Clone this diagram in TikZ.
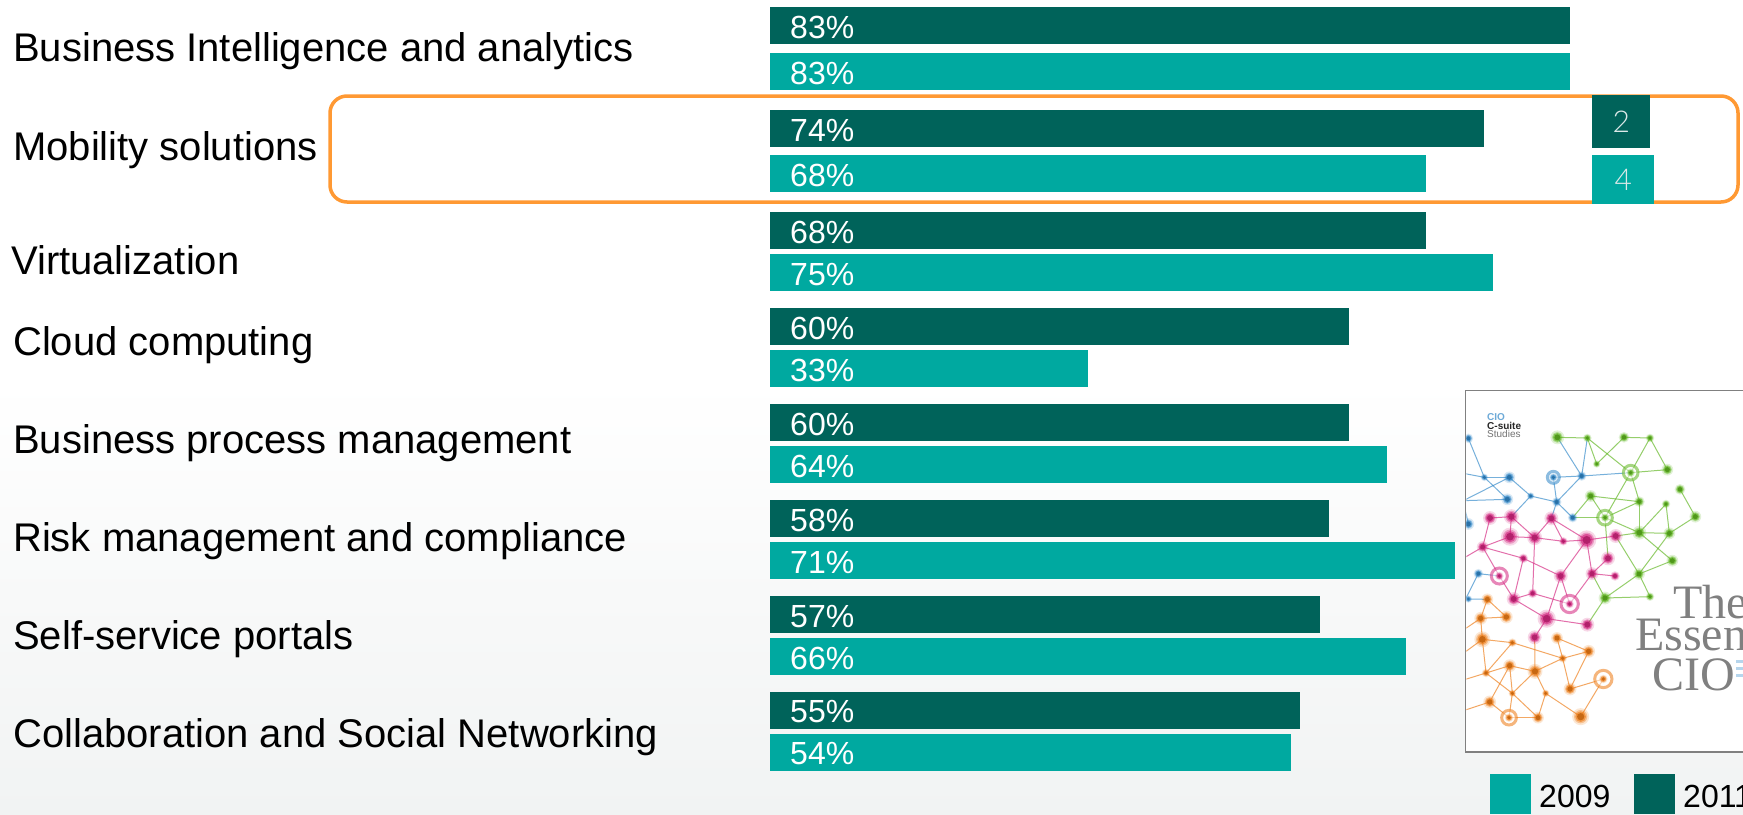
\documentclass[tikz,border=0pt]{standalone}
\usepackage{fontspec}
\usetikzlibrary{calc}
\setmainfont{Liberation Sans}
\newfontfamily\serifcover{Liberation Serif}
\newfontfamily\thinfont{Lato Light}
\definecolor{tealbar}{HTML}{00A9A0}
\definecolor{darkbar}{HTML}{00635A}
\definecolor{ringor}{HTML}{FF9933}
\definecolor{bgend}{HTML}{F1F3F3}
\definecolor{framegrey}{HTML}{808080}
\definecolor{nblue}{HTML}{2E86C8}
\definecolor{ngreen}{HTML}{5DB51C}
\definecolor{npink}{HTML}{D4237F}
\definecolor{norange}{HTML}{EE7A12}
\definecolor{badgetext}{HTML}{DDE9E9}
\tikzset{
  barbase/.style={rectangle,anchor=north west,inner sep=0pt,minimum height=37pt},
  darkb/.style={barbase,fill=darkbar},
  tealb/.style={barbase,fill=tealbar},
  pct/.style={anchor=base west,inner sep=0pt,text=white,font=\fontsize{32}{32}\selectfont},
  rowlabel/.style={anchor=base west,inner sep=0pt,text=black,font=\fontsize{40}{40}\selectfont},
  legendtext/.style={anchor=base west,inner sep=0pt,text=black,font=\fontsize{32}{32}\selectfont},
  covertitle/.style={anchor=base west,inner sep=0pt,text=black!50,font=\serifcover\fontsize{48}{48}\selectfont},
  badge/.style={rectangle,anchor=north west,inner sep=0pt,text=badgetext,font=\thinfont\fontsize{30}{30}\selectfont},
  netedge/.style={line width=1pt,opacity=0.65},
}
\def\bluelist{b1/145/205/9,b2/193/322/7,b3/268/322/11,b4/262/388/11,b5/145/462/11,b6/332/378/7,b7/400/322/8,b8/485/318/9,b9/410/396/9,b10/458/443/9,b11/175/611/9,b12/145/687/7,bx1/130/310/1,bx2/130/392/1,bx3/130/700/1}
\def\greenlist{g1/412/202/13,g2/502/204/8,g3/612/202/10,g4/690/204/8,g5/530/282/7,g6/632/308/8,g7/742/299/11,g8/512/378/11,g9/658/395/10,g10/780/358/10,g11/738/402/8,g12/826/440/11,g13/555/443/8,g14/658/488/13,g15/748/490/11,g16/757/572/11,g17/657/612/11,g18/555/684/12,g19/690/680/8}
\def\pinklist{p1/210/444/13,p2/274/440/14,p3/394/445/13,p4/270/500/17,p5/344/503/14,p6/430/514/8,p7/500/510/18,p8/587/498/13,p9/188/531/11,p10/310/565/9,p11/564/565/13,p12/238/618/8,p13/422/618/13,p14/516/611/12,p15/585/618/9,p16/281/687/13,p17/338/670/9,p18/449/702/8,p19/380/746/17,p20/502/764/13,p21/344/802/13,px1/130/565/1}
\def\orangelist{o1/202/688/11,o2/182/745/12,o3/259/741/12,o4/187/808/15,o5/277/818/8,o6/411/804/11,o7/506/844/12,o8/428/865/8,o9/269/887/12,o10/345/904/14,o11/198/909/8,o12/550/927/8,o13/450/957/12,o14/277/970/7,o15/377/970/7,o16/209/996/12,o17/267/1043/8,o18/354/1043/11,o19/482/1040/16,ox1/130/780/1,ox2/130/850/1,ox3/130/930/1,ox4/130/1022/1}
\def\ringlist{b7/18/nblue,g6/22/ngreen,g13/22/ngreen,p12/24/npink,p18/26/npink,o12/26/norange,o17/22/norange}
\newcommand\setnetcoords[1]{\foreach \n/\x/\y/\r in #1 { \coordinate (\n) at (\x,\y); }}
\newcommand\drawnetdots[2]{\foreach \n/\x/\y/\r in #1 {
    \fill[#2,opacity=0.18] (\n) circle[radius=\r*1.6];
    \fill[#2,opacity=0.35] (\n) circle[radius=\r*1.25];
    \fill[#2,opacity=0.6] (\n) circle[radius=\r];
    \fill[#2!82!black,opacity=0.9] (\n) circle[radius=\r*0.68];
}}
\begin{document}
\begin{tikzpicture}[x=1pt,y=-1pt]
\useasboundingbox (0,0) rectangle (1743,814);
\fill[white] (0,0) rectangle (1743,814);
\shade[top color=white,bottom color=bgend] (0,380) rectangle (1743,814);
% highlight
\node[rectangle,draw=ringor,line width=3.5pt,rounded corners=17pt,anchor=north west,inner sep=0pt,outer sep=0pt,minimum width=1408pt,minimum height=106pt] (hl) at (330,96) {};
% row labels
\node[rowlabel] (l1) at (13,61) {Business Intelligence and analytics};
\node[rowlabel] (l2) at (13,160) {Mobility solutions};
\node[rowlabel] (l3) at (11,274) {Virtualization};
\node[rowlabel] (l4) at (13,355) {Cloud computing};
\node[rowlabel] (l5) at (13,453) {Business process management};
\node[rowlabel] (l6) at (13,551) {Risk management and compliance};
\node[rowlabel] (l7) at (13,649) {Self-service portals};
\node[rowlabel] (l8) at (13,747) {Collaboration and Social Networking};
% bars
\foreach \i/\dy/\dv/\ty/\tv in {1/7/83/53/83,2/110/74/155/68,3/212/68/254/75,4/308/60/350/33,5/404/60/446/64,6/500/58/542/71,7/596/57/638/66,8/691.5/55/733.5/54}{
  \pgfmathsetmacro\dw{9.64*\dv}
  \pgfmathsetmacro\tw{9.64*\tv}
  \node[darkb,minimum width=\dw pt] (d\i) at (770,\dy) {};
  \node[tealb,minimum width=\tw pt] (t\i) at (770,\ty) {};
  \node[pct] (dp\i) at ($(d\i.south west)+(20,-6)$) {\dv\%};
  \node[pct] (tp\i) at ($(t\i.south west)+(20,-6)$) {\tv\%};
}
% badges
\node[badge,fill=darkbar,minimum width=58pt,minimum height=52.5pt] (b2) at (1592,95) {2};
\node[badge,fill=tealbar,minimum width=62pt,minimum height=49pt] (b4) at (1592,155) {4};
% cover
\draw[framegrey,line width=1.8pt,fill=white] (1465.5,390.5) rectangle (1760,752);
\begin{scope}
\clip (1466.4,391.4) rectangle (1743,751);
\begin{scope}[shift={(1420,370)},x=0.33333pt,y=-0.33333pt]
\setnetcoords{\bluelist}
\setnetcoords{\greenlist}
\setnetcoords{\pinklist}
\setnetcoords{\orangelist}
\foreach \a/\b in {b1/b2,b2/b4,bx1/b2,bx2/b4,b3/bx2,b3/b6,b3/b2,b6/b9,b6/p2,b7/b8,b7/b9,b8/b9,b9/b10,b8/g1,b8/g2,b8/g6,b9/p3,b11/p12,b11/bx3,b12/o1,b5/bx2}
  \draw[nblue,netedge] (\a)--(\b);
\foreach \a/\b in {g1/g2,g2/g5,g2/g6,g5/g3,g3/g4,g4/g6,g4/g7,g6/g7,g6/g9,g6/g13,g8/g9,g8/g13,g8/b10,g9/g14,g13/g14,g13/g9,g14/g15,g14/g11,g11/g15,g15/g12,g10/g12,g14/p8,g15/g17,g16/g14,g16/g17,g17/g18,g17/g19,g18/g19,p8/g17,g13/p11,b10/g13,p20/g18,p14/g18}
  \draw[ngreen,netedge] (\a)--(\b);
\foreach \a/\b in {p1/p2,p1/p9,p9/p4,p2/p5,p3/p5,p3/p6,p3/p7,p5/p6,p5/p17,p6/p7,p7/p8,p7/p13,p7/p14,p9/p10,p9/p12,p10/p13,p10/p16,p11/p14,p14/p15,p14/p18,p13/p18,p13/p19,p16/p17,p17/p18,p16/p19,p19/p20,p19/p21,p9/px1,p4/p5,p2/p4,p12/p16}
  \draw[npink,netedge] (\a)--(\b);
\foreach \a/\b in {o1/o2,o1/o3,o2/o3,o2/o4,o4/o5,o4/o11,o5/o11,o5/o8,o6/o8,o6/o7,o7/o8,o7/o13,o8/o10,o8/o13,o9/o14,o9/o10,o9/o11,o10/o14,o10/o15,o11/o14,o12/o13,o12/o19,o15/o18,o15/o19,o14/o17,o16/o17,o17/o18,o2/ox1,o4/ox2,o11/ox3,o16/ox4,p21/o10,o16/o9,o14/o18}
  \draw[norange,netedge] (\a)--(\b);
\foreach \r/\s/\c in \ringlist {
  \draw[\c,line width=3pt,opacity=0.55,fill=white] (\r) circle[radius=\s];
}
\drawnetdots{\bluelist}{nblue}
\drawnetdots{\greenlist}{ngreen}
\drawnetdots{\pinklist}{npink}
\drawnetdots{\orangelist}{norange}
\end{scope}
\node[covertitle] (ct1) at (1673,618) {The};
\node[covertitle] (ct2) at (1635,650) {Essen};
\node[covertitle] (ct3) at (1652,690) {CIO};
\node[anchor=base west,inner sep=0pt,text=nblue!70,font=\bfseries\fontsize{10}{10}\selectfont] (cs1) at (1487,420) {CIO};
\node[anchor=base west,inner sep=0pt,text=black!85,font=\bfseries\fontsize{10}{10}\selectfont] (cs2) at (1487,429) {C-suite};
\node[anchor=base west,inner sep=0pt,text=black!55,font=\fontsize{10}{10}\selectfont] (cs3) at (1487,437) {Studies};
\fill[nblue!35] (1736,660) rectangle (1743,663);
\fill[nblue!35] (1736,667) rectangle (1743,670);
\fill[nblue!35] (1736,674) rectangle (1743,677);
\end{scope}
% legend
\node[rectangle,fill=tealbar,anchor=north west,inner sep=0pt,minimum width=41pt,minimum height=40pt] (lg1) at (1490,774) {};
\node[legendtext] (lgt1) at (1539,807) {2009};
\node[rectangle,fill=darkbar,anchor=north west,inner sep=0pt,minimum width=41pt,minimum height=40pt] (lg2) at (1634,774) {};
\node[legendtext] (lgt2) at (1683,807) {2011};
\end{tikzpicture}
\end{document}
